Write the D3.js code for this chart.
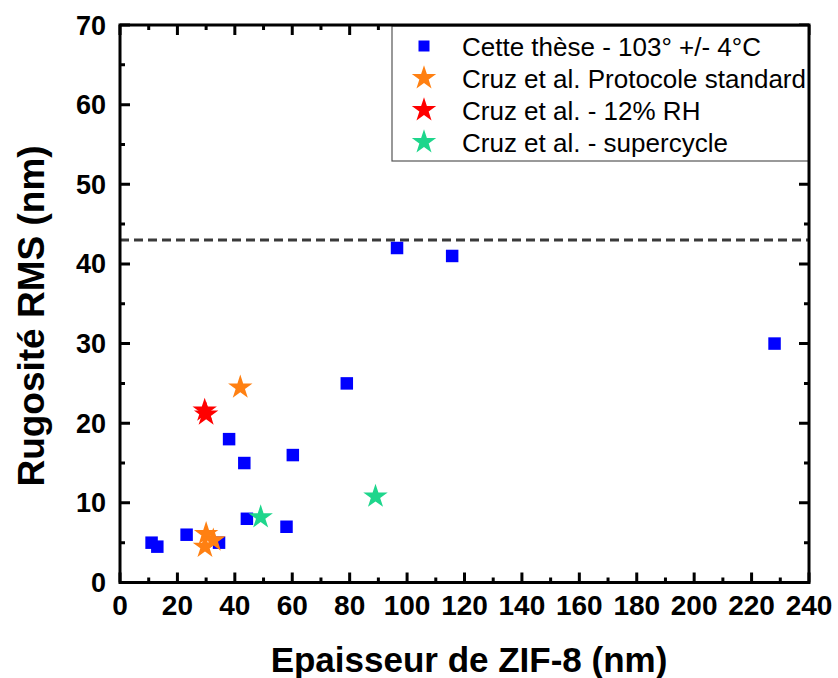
<!DOCTYPE html>
<html>
<head>
<meta charset="utf-8">
<script src="https://cdn.jsdelivr.net/npm/d3@7"></script>
<style>
	body { margin: 0; background: white; }
	text { font-family: "Liberation Sans", Arial, sans-serif; }
</style>
</head>
<body>
<div id="visualizationWrapper"></div>
<script>

let w = 838;
let h = 678;

// data (x = thickness nm, y = RMS nm)
let theseX = [11, 13, 23.2, 34.5, 38, 43.3, 44.2, 58, 60.2, 79, 96.5, 115.7, 228];
let theseY = [5, 4.5, 6, 5, 18, 15, 8, 7, 16, 25, 42, 41, 30];

let standardX = [41.9, 30, 32.5, 29.6];
let standardY = [24.5, 6.1, 5.3, 4.5];

let rhX = [29.5, 30];
let rhY = [21.6, 21.1];

let superX = [49, 89];
let superY = [8.2, 10.8];

let dashedLevel = 43;

let xTicks = [0, 20, 40, 60, 80, 100, 120, 140, 160, 180, 200, 220, 240];
let yTicks = [0, 10, 20, 30, 40, 50, 60, 70];
let xMinor = [10, 30, 50, 70, 90, 110, 130, 150, 170, 190, 210, 230];
let yMinor = [5, 15, 25, 35, 45, 55, 65];

let legendLabels = [
	"Cette thèse - 103° +/- 4°C",
	"Cruz et al. Protocole standard",
	"Cruz et al. - 12% RH",
	"Cruz et al. - supercycle"
];
let colors = ["#0000ff", "#ff8012", "#ff0000", "#1ed68c"];

let plotLeft = 120, plotRight = 809, plotTop = 25, plotBottom = 582.5;

let viz = d3.select("#visualizationWrapper").append("svg")
	.attr("width", w)
	.attr("height", h)
	.style("background-color", "white")
;

let xScale = d3.scaleLinear().domain([0, 240]).range([plotLeft, plotRight]);
let yScale = d3.scaleLinear().domain([0, 70]).range([plotBottom, plotTop]);

let square = d3.symbol(d3.symbolSquare, 156);
let star = d3.symbol(d3.symbolStar, 185);

// ticks, pointing inward on all four sides, built as one path
let tickPath = d3.path();
xTicks.concat(xMinor).forEach(function(d){
	let len = xTicks.includes(d) ? 10 : 5;
	tickPath.moveTo(xScale(d), plotBottom);
	tickPath.lineTo(xScale(d), plotBottom - len);
	tickPath.moveTo(xScale(d), plotTop);
	tickPath.lineTo(xScale(d), plotTop + len);
});
yTicks.concat(yMinor).forEach(function(d){
	let len = yTicks.includes(d) ? 10 : 5;
	tickPath.moveTo(plotLeft, yScale(d));
	tickPath.lineTo(plotLeft + len, yScale(d));
	tickPath.moveTo(plotRight, yScale(d));
	tickPath.lineTo(plotRight - len, yScale(d));
});
viz.append("path")
	.attr("d", tickPath.toString())
	.style("fill", "none")
	.style("stroke", "#000")
	.style("stroke-width", "3px")
;

// tick labels
viz.append("g").selectAll("text").data(xTicks).enter().append("text")
	.attr("x", d => xScale(d))
	.attr("y", 615)
	.attr("text-anchor", "middle")
	.attr("font-size", 28)
	.attr("font-weight", "bold")
	.text(d => d)
;
viz.append("g").selectAll("text").data(yTicks).enter().append("text")
	.attr("x", 106)
	.attr("y", d => yScale(d) + 9.5)
	.attr("text-anchor", "end")
	.attr("font-size", 27)
	.attr("font-weight", "bold")
	.text(d => d)
;

// axis titles
viz.append("text")
	.attr("x", 469)
	.attr("y", 672)
	.attr("text-anchor", "middle")
	.attr("font-size", 35)
	.attr("font-weight", "bold")
	.text("Epaisseur de ZIF-8 (nm)")
;
viz.append("text")
	.attr("transform", "translate(44,316) rotate(-90)")
	.attr("text-anchor", "middle")
	.attr("font-size", 37)
	.attr("font-weight", "bold")
	.text("Rugosité RMS (nm)")
;

// dashed reference line
viz.append("line")
	.attr("x1", plotLeft)
	.attr("x2", plotRight)
	.attr("y1", yScale(dashedLevel))
	.attr("y2", yScale(dashedLevel))
	.style("stroke", "#3a3a3a")
	.style("stroke-width", "3px")
	.style("stroke-dasharray", "9,5")
;

// points
let graphGroup = viz.append("g").attr("class", "graphGroup");

function drawSeries(xs, ys, shape, color){
	graphGroup.append("g").selectAll("path").data(xs).enter().append("path")
		.attr("d", shape)
		.attr("transform", function(d, i){
			return "translate(" + xScale(d) + "," + yScale(ys[i]) + ")";
		})
		.attr("fill", color)
	;
}

drawSeries(theseX, theseY, square, colors[0]);
drawSeries(standardX, standardY, star, colors[1]);
drawSeries(rhX, rhY, star, colors[2]);
drawSeries(superX, superY, star, colors[3]);

// legend
let legend = viz.append("g").attr("class", "legend");
legend.append("rect")
	.attr("x", 392)
	.attr("y", plotTop + 1)
	.attr("width", plotRight - 392)
	.attr("height", 135)
	.style("fill", "white")
	.style("stroke", "#555")
	.style("stroke-width", "1.2px")
;
let rows = legend.selectAll(".row").data(legendLabels).enter().append("g")
	.attr("class", "row")
	.attr("transform", (d, i) => "translate(0," + (46 + i * 32) + ")")
;
rows.append("path")
	.attr("d", (d, i) => i == 0 ? d3.symbol(d3.symbolSquare, 121)() : star())
	.attr("transform", "translate(424,0)")
	.attr("fill", (d, i) => colors[i])
;
rows.append("text")
	.attr("x", 462)
	.attr("y", 9.5)
	.attr("font-size", 26)
	.text(d => d)
;

// frame on top
viz.append("rect")
	.attr("x", plotLeft)
	.attr("y", plotTop)
	.attr("width", plotRight - plotLeft)
	.attr("height", plotBottom - plotTop)
	.style("fill", "none")
	.style("stroke", "#000")
	.style("stroke-width", "3px")
;

</script>
</body>
</html>
